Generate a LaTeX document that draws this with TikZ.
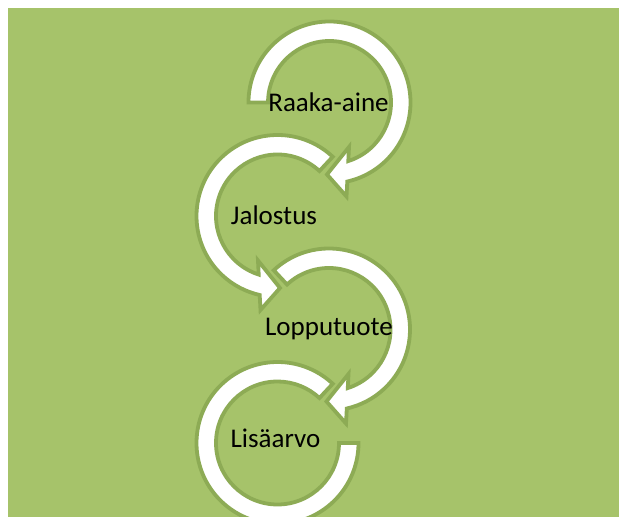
\documentclass[tikz,border=0pt]{standalone}
\usepackage{fontspec}
\setmainfont{Carlito}
\definecolor{bggreen}{RGB}{166,195,106}
\definecolor{edgegreen}{RGB}{141,171,85}
\tikzset{
  arrowband/.style={fill=white, draw=edgegreen, line width=3.8pt, line join=miter},
  steplabel/.style={anchor=base, inner sep=0pt, text=black, font=\fontsize{27}{32}\selectfont}
}
\begin{document}
\begin{tikzpicture}[x=1pt,y=1pt]
\useasboundingbox (0,0) rectangle (619,517);
\clip (0,0) rectangle (619,517);
\fill[bggreen] (8,0) rectangle (619,509);
% arrow 4 (Lisaarvo), no head
\path[arrowband, shift={(277.5,74)}]
  (47:81) arc[start angle=47, end angle=360, radius=81]
  -- (0:61.5) arc[start angle=360, end angle=47, radius=61.5] -- cycle;
% arrow 3 (Lopputuote), clockwise
\path[arrowband, shift={(329,187.5)}]
  (133:81) arc[start angle=133, end angle=-77.3, radius=81]
  -- (17,-94) -- (-2.5,-72) -- (19.5,-44.5)
  -- (-72.2:61.5) arc[start angle=-72.2, end angle=133, radius=61.5] -- cycle;
% arrow 2 (Jalostus), counterclockwise
\path[arrowband, shift={(277.5,301)}]
  (47:81) arc[start angle=47, end angle=257.3, radius=81]
  -- (-17,-94) -- (2.5,-72) -- (-19.5,-44.5)
  -- (252.2:61.5) arc[start angle=252.2, end angle=47, radius=61.5] -- cycle;
% arrow 1 (Raaka-aine), clockwise
\path[arrowband, shift={(329.5,414.5)}]
  (180:81) arc[start angle=180, end angle=-77.3, radius=81]
  -- (17,-94) -- (-2.5,-72) -- (19.5,-44.5)
  -- (-72.2:61.5) arc[start angle=-72.2, end angle=180, radius=61.5] -- cycle;
\node[steplabel] (raaka) at (328.5,405) {Raaka-aine};
\node[steplabel] (jalostus) at (274,292) {Jalostus};
\node[steplabel] (loppu) at (329,181.5) {Lopputuote};
\node[steplabel] (lisa) at (275.5,69) {Lisäarvo};
\end{tikzpicture}
\end{document}
